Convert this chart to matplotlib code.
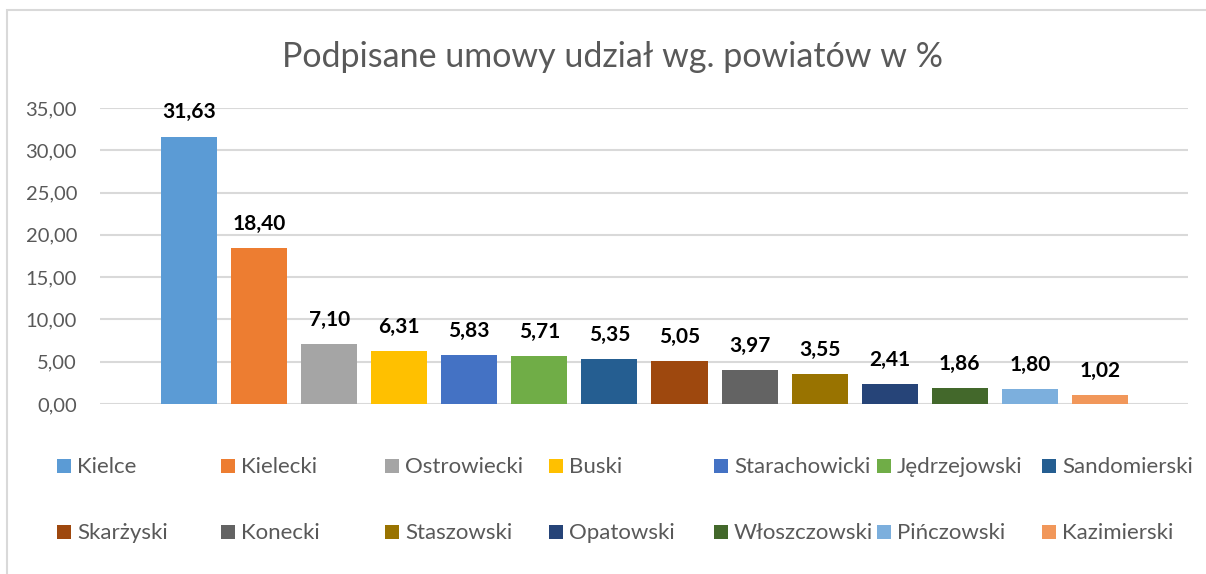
import matplotlib
matplotlib.use("Agg")
import matplotlib.pyplot as plt
from matplotlib.patches import Rectangle

# ---- data ----
categories = ["Kielce", "Kielecki", "Ostrowiecki", "Buski", "Starachowicki",
              "Jędrzejowski", "Sandomierski", "Skarżyski", "Konecki", "Staszowski",
              "Opatowski", "Włoszczowski", "Pińczowski", "Kazimierski"]
values = [31.63, 18.40, 7.10, 6.31, 5.83, 5.71, 5.35, 5.05, 3.97, 3.55,
          2.41, 1.86, 1.80, 1.02]
colors = ["#5B9BD5", "#ED7D31", "#A5A5A5", "#FFC000", "#4472C4", "#70AD47",
          "#255E91", "#9E480E", "#636363", "#997300", "#264478", "#43682B",
          "#7CAFDD", "#F1975A"]
title = "Podpisane umowy udział wg. powiatów w %"
yticks = [0, 5, 10, 15, 20, 25, 30, 35]

plt.rcParams['font.family'] = ['Lato', 'DejaVu Sans']

W, H = 1206, 574
fig = plt.figure(figsize=(W / 100, H / 100), dpi=100)
fig.patch.set_facecolor("white")

# chart border (light gray frame)
fig.patches.append(Rectangle((6.5 / W, -0.05), 1.2, 1 - 10 / H + 0.05,
                             transform=fig.transFigure, fill=False,
                             edgecolor="#D9D9D9", linewidth=1.5))

left, right = 100 / W, 1188 / W
bottom, top = 1 - 404 / H, 1 - 108 / H
ax = fig.add_axes([left, bottom, right - left, top - bottom])

x = list(range(len(values)))
ax.bar(x, values, width=0.8, color=colors, zorder=3)
for xi, v in zip(x, values):
    ax.annotate(f"{v:.2f}".replace(".", ","), (xi, v), xytext=(0, 13),
                textcoords="offset points", ha="center", va="baseline",
                fontsize=15, fontweight="bold", color="black")

ax.set_xlim(-1.271, 14.257)
ax.set_ylim(0, 35)
ax.set_yticks(yticks)
ax.set_yticklabels([f"{t:.2f}".replace(".", ",") for t in yticks],
                   fontsize=14.5, color="#595959")
ax.tick_params(axis="y", length=0, pad=16.5)
ax.set_xticks([])
ax.grid(axis="y", color="#D9D9D9", linewidth=1.5, zorder=0)
for s in ax.spines.values():
    s.set_visible(False)

fig.text(612 / W, 1 - 67 / H, title, ha="center", va="baseline",
         fontsize=24.5, color="#595959")

# legend, laid out in Excel's two rows
col_x = [57, 221, 385, 549, 714, 877, 1042]
row_base = [473, 539]
for i, (name, c) in enumerate(zip(categories, colors)):
    r, k = divmod(i, 7)
    x0, yb = col_x[k], row_base[r]
    fig.patches.append(Rectangle((x0 / W, 1 - yb / H), 14 / W, 14 / H,
                                 transform=fig.transFigure, facecolor=c,
                                 edgecolor="none"))
    fig.text((x0 + 20) / W, 1 - yb / H, name, ha="left", va="baseline",
             fontsize=16, color="#595959")

fig.savefig("out.png", dpi=100)
